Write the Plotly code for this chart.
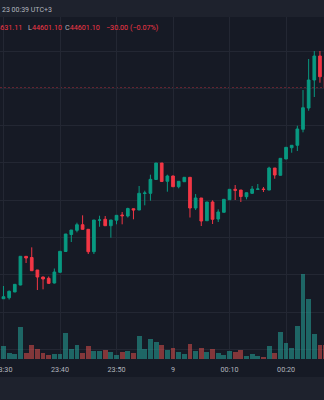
import pandas as pd
import plotly.graph_objects as go

# 1-minute bars, 8 Dec 23:30 -> 9 Dec 00:27 (UTC+3)
bar_times = pd.date_range("2023-12-08 23:30", periods=58, freq="min")

opens = [
    44035.9, 44038.6, 44054.0, 44072.6, 44149.5, 44146.4, 44112.9, 44094.1, 44090.6, 44078.0,
    44106.7, 44162.5, 44208.0, 44219.3, 44234.3, 44222.0, 44162.0, 44246.5, 44248.8, 44231.6,
    44246.5, 44260.3, 44257.6, 44277.2, 44273.7, 44318.0, 44318.5, 44355.5, 44399.7, 44350.7,
    44364.9, 44336.2, 44349.6, 44361.4, 44279.1, 44305.9, 44245.0, 44295.2, 44249.6, 44267.6,
    44301.3, 44329.2, 44327.3, 44309.4, 44318.5, 44329.2, 44330.0, 44327.3, 44386.3, 44366.8,
    44410.5, 44440.7, 44447.2, 44490.1, 44547.2, 44622.3, 44686.6, 44631.10,
]
highs = [
    44070.0, 44057.9, 44075.3, 44150.4, 44150.4, 44173.7, 44113.0, 44095.4, 44095.4, 44116.9,
    44163.8, 44209.4, 44220.1, 44239.7, 44259.5, 44222.5, 44247.0, 44258.4, 44257.6, 44247.0,
    44259.5, 44268.4, 44279.9, 44277.7, 44338.1, 44325.5, 44368.4, 44399.7, 44399.7, 44368.4,
    44366.2, 44351.5, 44361.4, 44362.2, 44316.6, 44305.9, 44295.2, 44299.7, 44275.6, 44302.4,
    44329.2, 44340.7, 44327.3, 44320.6, 44338.1, 44343.4, 44335.4, 44389.8, 44386.3, 44412.3,
    44441.8, 44447.2, 44499.7, 44595.4, 44678.6, 44700.0, 44700.0, 44631.11,
]
lows = [
    44035.1, 44033.8, 44053.5, 44072.0, 44131.6, 44110.2, 44059.2, 44061.1, 44075.3, 44076.7,
    44106.1, 44162.0, 44187.9, 44213.9, 44221.5, 44155.8, 44155.8, 44228.9, 44230.8, 44199.5,
    44235.4, 44235.4, 44253.6, 44248.8, 44273.5, 44286.3, 44298.7, 44355.0, 44349.6, 44322.8,
    44335.4, 44331.9, 44348.8, 44253.6, 44273.7, 44230.8, 44244.2, 44236.2, 44241.6, 44267.0,
    44301.3, 44300.5, 44295.2, 44302.4, 44316.6, 44329.2, 44322.0, 44327.0, 44357.6, 44366.2,
    44410.5, 44427.3, 44431.9, 44482.0, 44539.9, 44576.7, 44615.0, 44601.10,
]
closes = [
    44041.3, 44055.8, 44074.5, 44149.6, 44145.0, 44111.0, 44094.1, 44088.7, 44077.2, 44107.5,
    44163.0, 44209.4, 44220.1, 44234.3, 44222.0, 44161.9, 44246.9, 44247.0, 44231.6, 44247.0,
    44259.5, 44258.4, 44277.7, 44273.7, 44318.5, 44319.3, 44356.0, 44399.7, 44350.1, 44364.9,
    44336.2, 44350.7, 44361.4, 44279.1, 44305.9, 44244.2, 44295.2, 44248.8, 44268.4, 44302.4,
    44329.2, 44326.5, 44309.9, 44320.1, 44330.0, 44330.0, 44328.7, 44386.3, 44367.6, 44412.3,
    44441.8, 44447.2, 44490.9, 44548.0, 44622.3, 44686.6, 44631.10, 44601.10,
]
volumes = [
    31.8, 14.3, 11.8, 79.3, 15.0, 35.0, 25.0, 14.3, 10.0, 11.8,
    11.8, 64.3, 25.8, 35.0, 15.8, 32.5, 19.3, 19.3, 22.5, 16.8,
    9.3, 16.8, 20.8, 15.0, 56.8, 25.0, 50.0, 41.8, 35.0, 22.5,
    27.5, 17.5, 12.5, 37.5, 20.0, 26.8, 16.8, 25.0, 15.8, 10.0,
    20.0, 17.5, 21.8, 8.3, 11.8, 8.3, 5.8, 31.8, 14.3, 68.3,
    39.3, 26.8, 82.5, 212.5, 150.0, 62.5, 35.0, 35.0,
]

tick_times = ["2023-12-08 23:30", "2023-12-08 23:40", "2023-12-08 23:50",
              "2023-12-09 00:00", "2023-12-09 00:10", "2023-12-09 00:20"]
tick_text = ["23:30", "23:40", "23:50", "9", "00:10", "00:20"]

header_time = "23 00:39 UTC+3"
last_close = closes[-1]
prev_close = closes[-2]
change = last_close - prev_close
change_pct = change / prev_close * 100

UP = "#089981"
DOWN = "#f23645"
VOL_UP = "rgba(38,166,154,0.55)"
VOL_DOWN = "rgba(239,83,80,0.5)"
BG = "#161a25"
PANEL = "#1e222d"
GRID = "#232733"
TEXT = "#b2b5be"
FONT = "Roboto"

vol_colors = [VOL_UP if c >= o else VOL_DOWN for o, c in zip(opens, closes)]

fig = go.Figure()
fig.add_trace(go.Bar(
    x=bar_times, y=volumes, yaxis="y2",
    marker=dict(color=vol_colors, line=dict(width=0)),
    width=52000, hoverinfo="skip",
))
fig.add_trace(go.Candlestick(
    x=bar_times, open=opens, high=highs, low=lows, close=closes,
    increasing=dict(line=dict(color=UP, width=1), fillcolor=UP),
    decreasing=dict(line=dict(color=DOWN, width=1), fillcolor=DOWN),
    whiskerwidth=0,
))

t_start = pd.Timestamp("2023-12-08 23:30")
x0 = t_start - pd.Timedelta(seconds=37)
x1 = t_start + pd.Timedelta(seconds=int(56.73 * 60))

H_PLOT = 342  # plot height in px (17 .. 359)


def py(px):
    """Paper y for a pixel row measured from the top of the figure."""
    return (359 - px) / H_PLOT


def fmt(v):
    return f"{v:.2f}".replace("-", "\u2212")


# OHLC legend of the last bar: (label, value, x offset in px)
legend_items = [
    ("H", fmt(highs[-1]), -15.5),
    ("L", fmt(lows[-1]), 26),
    ("C", fmt(last_close), 63),
]
annotations = [
    dict(text=header_time, xref="paper", yref="paper", x=0, y=py(10),
         xanchor="left", yanchor="middle", showarrow=False, xshift=0,
         font=dict(family=FONT, size=7, color=TEXT)),
]
for label, value, shift in legend_items:
    annotations.append(dict(
        text=f'<span style="color:{TEXT}">{label}</span><span style="color:{DOWN}">{value}</span>',
        xref="paper", yref="paper", x=0, y=py(27.3), xanchor="left", yanchor="middle",
        showarrow=False, xshift=shift, font=dict(family=FONT, size=7.2, color=TEXT),
    ))
annotations.append(dict(
    text=f"{fmt(change)} ({fmt(change_pct)}%)",
    xref="paper", yref="paper", x=0, y=py(27.3), xanchor="left", yanchor="middle",
    showarrow=False, xshift=104, font=dict(family=FONT, size=7.2, color=DOWN),
))

fig.update_layout(
    width=324, height=400,
    margin=dict(l=0, r=0, t=17, b=41, pad=0, autoexpand=False),
    paper_bgcolor=BG, plot_bgcolor=BG,
    showlegend=False, boxgap=0.32,
    bargap=0,
    font=dict(family=FONT, size=7.2, color=TEXT),
    xaxis=dict(
        type="date", range=[x0, x1],
        tickvals=tick_times, ticktext=tick_text,
        showgrid=True, gridcolor=GRID, gridwidth=1,
        zeroline=False, showline=False, ticks="",
        ticklabelstandoff=5, ticklabeloverflow="allow", automargin=False,
        tickfont=dict(family=FONT, size=7.2, color=TEXT),
        rangeslider=dict(visible=False), fixedrange=True,
    ),
    yaxis=dict(
        range=[43874.3, 44791.2], dtick=100, tick0=0,
        showgrid=True, gridcolor=GRID, gridwidth=1,
        showticklabels=False, zeroline=False, showline=False, ticks="",
    ),
    yaxis2=dict(
        overlaying="y", range=[0, 855],
        showgrid=False, showticklabels=False, zeroline=False, showline=False,
    ),
    shapes=[
        dict(type="rect", xref="paper", yref="paper", x0=-0.05, x1=1.05,
             y0=1, y1=1.1, fillcolor=PANEL, line=dict(width=0), layer="below"),
        dict(type="rect", xref="paper", yref="paper", x0=-0.05, x1=1.05,
             y0=py(377), y1=py(410), fillcolor=PANEL, line=dict(width=0), layer="below"),
        dict(type="line", xref="paper", yref="y", x0=0, x1=1,
             y0=last_close, y1=last_close,
             line=dict(color="rgba(242,54,69,0.6)", width=1, dash="2px,2px"), layer="below"),
    ],
    annotations=annotations,
)

fig.write_html("out.html")
